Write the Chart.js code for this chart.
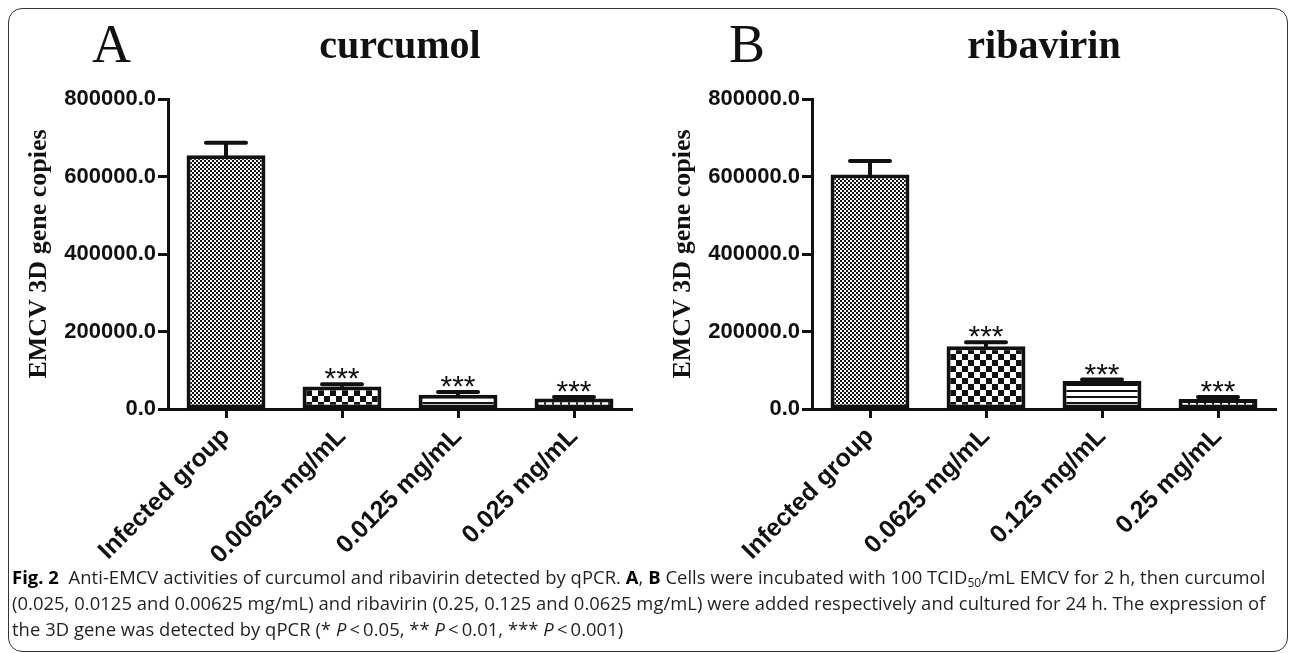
<!DOCTYPE html>
<html>
<head>
<meta charset="utf-8">
<script src="https://cdn.jsdelivr.net/npm/chart.js@4.4.1/dist/chart.umd.min.js"></script>
<style>
  html, body { margin: 0; padding: 0; background: #fff; }
  body { width: 1295px; height: 653px; position: relative; overflow: hidden; }
  .frame { position: absolute; left: 8px; top: 8px; width: 1280px; height: 644px;
           border: 1.5px solid #333; border-radius: 14px; box-sizing: border-box; }
  .panel { position: absolute; top: 0; width: 648px; height: 565px; }
  .letter { position: absolute; top: 17px; font-family: "Liberation Serif"; font-size: 54px;
            line-height: 1; color: #111; }
  .caption { position: absolute; left: 12px; top: 564px; font-family: "Open Sans"; font-size: 18.4px;
             letter-spacing: 0.05px; line-height: 26px; color: #231f20; white-space: nowrap; }
  .caption b { color: #000; }
  .caption sub { font-size: 12px; vertical-align: -3px; line-height: 0; }
</style>
</head>
<body>
<div class="frame"></div>
<canvas id="chartA" class="panel" style="left:0" width="648" height="565"></canvas>
<canvas id="chartB" class="panel" style="left:644px" width="648" height="565"></canvas>
<div class="letter" style="left:92px">A</div>
<div class="letter" style="left:729px">B</div>
<div class="caption">
  <div><b>Fig. 2</b>&nbsp; Anti-EMCV activities of curcumol and ribavirin detected by qPCR. <b>A</b>, <b>B</b> Cells were incubated with 100 TCID<sub>50</sub>/mL EMCV for 2 h, then curcumol</div>
  <div>(0.025, 0.0125 and 0.00625 mg/mL) and ribavirin (0.25, 0.125 and 0.0625 mg/mL) were added respectively and cultured for 24 h. The expression of</div>
  <div>the 3D gene was detected by qPCR (* <i>P</i>&thinsp;&lt;&thinsp;0.05, ** <i>P</i>&thinsp;&lt;&thinsp;0.01, *** <i>P</i>&thinsp;&lt;&thinsp;0.001)</div>
</div>
<script>
// values
const labelsA = ['Infected group', '0.00625 mg/mL', '0.0125 mg/mL', '0.025 mg/mL'];
const meansA = [655000, 58000, 37000, 27000];
const errsA = [32000, 6000, 7000, 4000];
const starsA = ['', '***', '***', '***'];

const labelsB = ['Infected group', '0.0625 mg/mL', '0.125 mg/mL', '0.25 mg/mL'];
const meansB = [605000, 162000, 72000, 26000];
const errsB = [35000, 10000, 4000, 5000];
const starsB = ['', '***', '***', '***'];

const yTicks = [0, 200000, 400000, 600000, 800000];

const INK = '#111';

// fill patterns like the Prism bars
function makePattern(kind) {
  const c = document.createElement('canvas');
  const g = c.getContext('2d');
  if (kind === 'fine') {
    c.width = 4; c.height = 4;
    g.fillStyle = '#fff'; g.fillRect(0, 0, 4, 4);
    g.fillStyle = INK; g.fillRect(0, 0, 2, 2); g.fillRect(2, 2, 2, 2);
  } else if (kind === 'checker') {
    c.width = 12; c.height = 12;
    g.fillStyle = '#fff'; g.fillRect(0, 0, 12, 12);
    g.fillStyle = INK; g.fillRect(0, 0, 6, 6); g.fillRect(6, 6, 6, 6);
  } else if (kind === 'hlines') {
    c.width = 6; c.height = 6;
    g.fillStyle = '#fff'; g.fillRect(0, 0, 6, 6);
    g.fillStyle = INK; g.fillRect(0, 0, 6, 2);
  } else {
    c.width = 8; c.height = 8;
    g.fillStyle = '#fff'; g.fillRect(0, 0, 8, 8);
    g.fillStyle = INK; g.fillRect(0, 0, 2, 8);
  }
  return g.createPattern(c, 'repeat');
}
const fills = [makePattern('fine'), makePattern('checker'), makePattern('hlines'), makePattern('vlines')];

// SEM whiskers and significance stars
const errorBars = {
  id: 'errorBars',
  afterDatasetsDraw(chart, args, opts) {
    const ctx = chart.ctx;
    const yScale = chart.scales.y;
    const meta = chart.getDatasetMeta(0);
    ctx.save();
    ctx.strokeStyle = INK;
    ctx.fillStyle = INK;
    ctx.lineWidth = 4;
    ctx.lineCap = 'round';
    meta.data.forEach((bar, i) => {
      const top = yScale.getPixelForValue(opts.means[i] + opts.errs[i]);
      ctx.beginPath();
      ctx.moveTo(bar.x, bar.y);
      ctx.lineTo(bar.x, top);
      ctx.moveTo(bar.x - 20, top);
      ctx.lineTo(bar.x + 20, top);
      ctx.stroke();
      if (opts.stars[i]) {
        ctx.font = '30px "Liberation Sans"';
        ctx.textAlign = 'center';
        ctx.textBaseline = 'alphabetic';
        ctx.fillText(opts.stars[i], bar.x, top + 4);
      }
    });
    ctx.restore();
  }
};

function makeChart(id, title, labels, means, errs, stars, padRight) {
  return new Chart(document.getElementById(id), {
    type: 'bar',
    data: {
      labels: labels,
      datasets: [{
        data: means,
        backgroundColor: fills,
        borderColor: INK,
        borderWidth: 4,
        borderSkipped: false,
        barPercentage: 0.68,
        categoryPercentage: 1
      }]
    },
    options: {
      responsive: false,
      animation: false,
      devicePixelRatio: 1,
      layout: { padding: { left: 10, right: padRight, top: 0, bottom: 0 } },
      plugins: {
        legend: { display: false },
        tooltip: { enabled: false },
        title: {
          display: true,
          text: title,
          fullSize: false,
          color: INK,
          font: { family: '"Liberation Serif"', size: 40, weight: 'bold', lineHeight: 1.2 },
          padding: { top: 24, bottom: 27 }
        },
        errorBars: { means: means, errs: errs, stars: stars }
      },
      scales: {
        x: {
          offset: true,
          grid: { display: true, drawOnChartArea: false, offset: false, tickLength: 9, tickWidth: 3, tickColor: INK },
          border: { display: true, color: INK, width: 3 },
          ticks: {
            color: INK,
            autoSkip: false,
            minRotation: 45,
            maxRotation: 45,
            padding: 4,
            font: { family: '"Liberation Sans"', size: 25, weight: 'bold' }
          },
          afterFit(scale) { scale.height = 156; }
        },
        y: {
          min: 0,
          max: 800000,
          afterBuildTicks(scale) { scale.ticks = yTicks.map(v => ({ value: v })); },
          grid: { drawOnChartArea: false, tickLength: 10, tickWidth: 3, tickColor: INK },
          border: { color: INK, width: 3 },
          ticks: {
            color: INK,
            padding: 2,
            font: { family: '"Liberation Sans"', size: 22, weight: 'bold' },
            callback: v => Number(v).toFixed(1)
          },
          title: {
            display: true,
            text: 'EMCV 3D gene copies',
            color: INK,
            font: { family: '"Liberation Serif"', size: 26, weight: 'bold', lineHeight: 1.2 },
            padding: { top: 14, bottom: 0 }
          },
          afterFit(scale) { scale.width = 158; }
        }
      }
    },
    plugins: [errorBars]
  });
}

makeChart('chartA', 'curcumol', labelsA, meansA, errsA, starsA, 16);
makeChart('chartB', 'ribavirin', labelsB, meansB, errsB, starsB, 16);
</script>
</body>
</html>
